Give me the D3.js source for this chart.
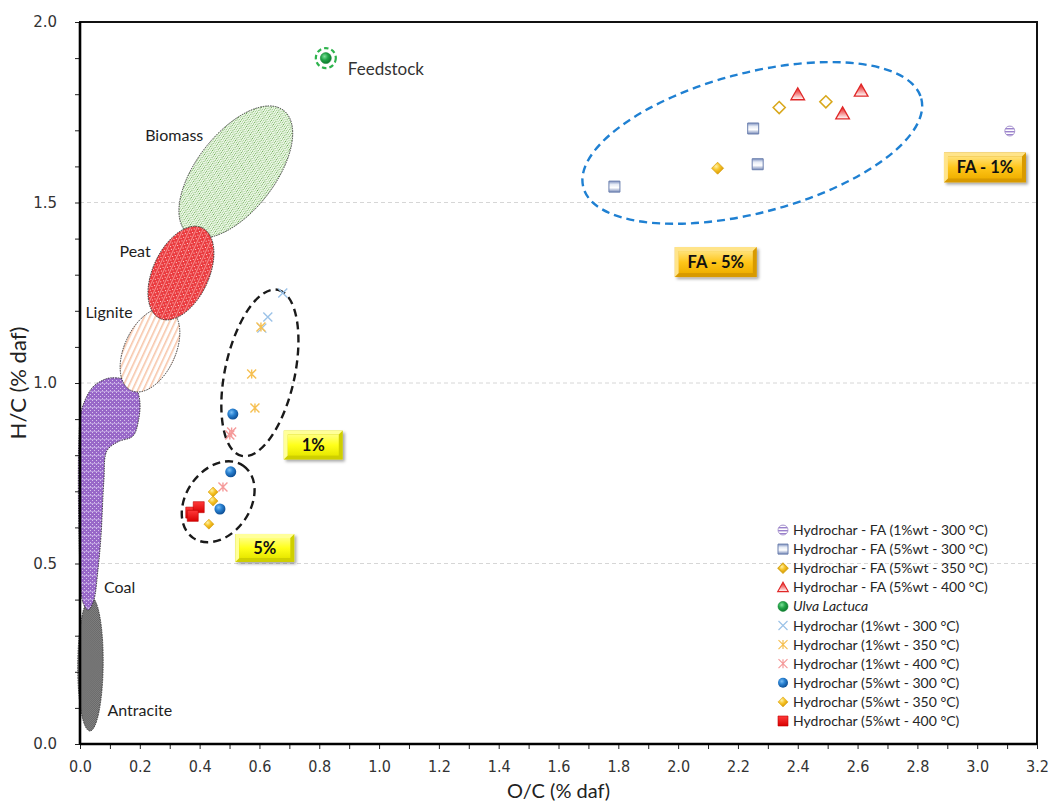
<!DOCTYPE html>
<html>
<head>
<meta charset="utf-8">
<script src="https://cdn.jsdelivr.net/npm/d3@7"></script>
<style>
  html, body { margin: 0; padding: 0; background: #fff; }
  svg { display: block; }
</style>
</head>
<body>
<svg id="chart" width="1052" height="803"></svg>
<script>
// ---- axis ticks ----
const xTickValues = [0, 0.2, 0.4, 0.6, 0.8, 1.0, 1.2, 1.4, 1.6, 1.8, 2.0, 2.2, 2.4, 2.6, 2.8, 3.0, 3.2];
const xTickLabels = ["0.0","0.2","0.4","0.6","0.8","1.0","1.2","1.4","1.6","1.8","2.0","2.2","2.4","2.6","2.8","3.0","3.2"];
const yTickValues = [0, 0.5, 1.0, 1.5, 2.0];
const yTickLabels = ["0.0","0.5","1.0","1.5","2.0"];

// ---- measured samples: [O/C, H/C] ----
const faOne300       = [[3.109, 1.698]];
const faFive300      = [[1.787, 1.544], [2.251, 1.705], [2.266, 1.606]];
const faFive350      = [[2.338, 1.763], [2.494, 1.779]];
const faFive350Solid = [[2.132, 1.595]];
const faFive400      = [[2.400, 1.800], [2.612, 1.810], [2.550, 1.747]];
const ulvaLactuca    = [[0.822, 1.900]];
const one300         = [[0.678, 1.249], [0.628, 1.183], [0.608, 1.152]];
const one350         = [[0.605, 1.155], [0.574, 1.025], [0.585, 0.931]];
const one400         = [[0.501, 0.856], [0.507, 0.864], [0.478, 0.712]];
const five300        = [[0.511, 0.914], [0.504, 0.754], [0.468, 0.651]];
const five350        = [[0.445, 0.698], [0.445, 0.673], [0.431, 0.609]];
const five400        = [[0.372, 0.641], [0.397, 0.656], [0.377, 0.632]];

const legendLabels = [
  "Hydrochar - FA (1%wt - 300 \u00B0C)",
  "Hydrochar - FA (5%wt - 300 \u00B0C)",
  "Hydrochar - FA (5%wt - 350 \u00B0C)",
  "Hydrochar - FA (5%wt - 400 \u00B0C)",
  "Ulva Lactuca",
  "Hydrochar (1%wt - 300 \u00B0C)",
  "Hydrochar (1%wt - 350 \u00B0C)",
  "Hydrochar (1%wt - 400 \u00B0C)",
  "Hydrochar (5%wt - 300 \u00B0C)",
  "Hydrochar (5%wt - 350 \u00B0C)",
  "Hydrochar (5%wt - 400 \u00B0C)"
];

// ---- Van Krevelen fuel regions (data units) ----
// ellipses given by the two ends of the long axis and a width ratio
const regionEllipses = [
  { name: "Biomass",   p1: [0.361, 1.414], p2: [0.681, 1.755], ratio: 0.50, fill: "url(#patBiomass)" },
  { name: "Antracite", p1: [0.037, 0.407], p2: [0.033, 0.036], ratio: 0.19, fill: "url(#patAntracite)" },
  { name: "Coal" },
  { name: "Lignite",   p1: [0.171, 0.979], p2: [0.297, 1.204], ratio: 0.57, fill: "url(#patLignite)" },
  { name: "Peat",      p1: [0.267, 1.179], p2: [0.408, 1.430], ratio: 0.56, fill: "url(#patPeat)" }
];
const coalOutline = [
  [0.100, 1.014], [0.150, 1.010], [0.185, 0.990], [0.200, 0.950], [0.196, 0.898],
  [0.177, 0.853], [0.127, 0.837], [0.090, 0.812], [0.080, 0.731], [0.070, 0.573],
  [0.060, 0.482], [0.045, 0.395], [0.027, 0.371], [0.010, 0.391], [0.000, 0.482],
  [0.000, 0.898], [0.013, 0.945], [0.043, 0.989], [0.077, 1.008]
];
const regionLabels = [
  { text: "Biomass",   at: [0.218, 1.670] },
  { text: "Peat",      at: [0.132, 1.349] },
  { text: "Lignite",   at: [0.018, 1.180] },
  { text: "Coal",      at: [0.080, 0.418] },
  { text: "Antracite", at: [0.092, 0.078] }
];

// grouping outlines
const groupEllipses = [
  { p1: [1.683, 1.542], p2: [2.813, 1.788], ratio: 0.40, color: "#1f80d2" },
  { p1: [0.541, 0.798], p2: [0.662, 1.258], ratio: 0.41, color: "#1a1a1a" },
  { p1: [0.378, 0.571], p2: [0.546, 0.771], ratio: 0.73, color: "#1a1a1a" }
];
const calloutTags = [
  { text: "1%",      at: [0.780, 0.828], w: 59, h: 29, tone: "yellow" },
  { text: "5%",      at: [0.618, 0.543], w: 59, h: 28, tone: "yellow" },
  { text: "FA - 5%", at: [2.126, 1.335], w: 82, h: 30, tone: "gold" },
  { text: "FA - 1%", at: [3.026, 1.597], w: 82, h: 30, tone: "gold" }
];

// ---- layout ----
const svg = d3.select("#chart");
const x = d3.scaleLinear().domain([0, 3.2]).range([80, 1037]);
const y = d3.scaleLinear().domain([0, 2.0]).range([744, 22]);
const bodyFont = "Lato, 'Open Sans', sans-serif";

// ---- defs: gradients and patterns ----
const defs = svg.append("defs");

function radial(id, stops, cx = "38%", cy = "35%") {
  const g = defs.append("radialGradient").attr("id", id).attr("cx", cx).attr("cy", cy).attr("r", "65%");
  stops.forEach(([o, c]) => g.append("stop").attr("offset", o).attr("stop-color", c));
}
function linear(id, stops) {
  const g = defs.append("linearGradient").attr("id", id).attr("x1", 0).attr("y1", 0).attr("x2", 0).attr("y2", 1);
  stops.forEach(([o, c]) => g.append("stop").attr("offset", o).attr("stop-color", c));
}
radial("gBlue", [["0%", "#7cc0f5"], ["45%", "#2a82d2"], ["100%", "#0e4f95"]]);
radial("gGreen", [["0%", "#7fe09a"], ["50%", "#22a548"], ["100%", "#0f7a2f"]]);
radial("gGold", [["0%", "#fff1a6"], ["45%", "#f7c52a"], ["100%", "#d99a00"]]);
linear("gFaSquare", [["0%", "#7b8fbf"], ["30%", "#e6ebf5"], ["60%", "#ffffff"], ["100%", "#7488b8"]]);
linear("gRedTri", [["0%", "#e41c1c"], ["45%", "#f27a7a"], ["100%", "#ffffff"]]);
linear("gRedSq", [["0%", "#ff3a3a"], ["100%", "#d80000"]]);
linear("gYellow", [["0%", "#ffff80"], ["50%", "#ffff1a"], ["100%", "#e8e800"]]);
linear("gGoldTag", [["0%", "#ffe27a"], ["50%", "#ffc61a"], ["100%", "#f0b000"]]);

function pattern(id, w, h, bg, cells) {
  const p = defs.append("pattern").attr("id", id).attr("patternUnits", "userSpaceOnUse")
    .attr("width", w).attr("height", h);
  p.append("rect").attr("width", w).attr("height", h).attr("fill", bg);
  cells.forEach(([cx, cy, cw, ch, c]) => p.append("rect").attr("x", cx).attr("y", cy)
    .attr("width", cw).attr("height", ch).attr("fill", c));
}
pattern("patBiomass", 4, 4, "#eef7e9", [[0, 0, 1, 1, "#5fa843"], [2, 0, 1, 1, "#5fa843"], [1, 2, 1, 1, "#93c97d"], [3, 2, 1, 1, "#93c97d"]]);
pattern("patPeat", 4, 6, "#ea3b3f", [[0, 0, 1, 1, "#ffd5d5"], [2, 2, 1, 1, "#ffd5d5"], [0, 4, 4, 1, "#f58a8a"]]);
pattern("patLignite", 4, 5, "#ffffff", [[0, 0, 4, 1.6, "#f7c6aa"]]);
pattern("patCoal", 4, 8, "#9868c8", [[0, 0, 1, 1, "#d8c6ec"], [2, 2, 1, 1, "#d8c6ec"], [0, 4, 1, 1, "#d8c6ec"], [2, 6, 1, 1, "#d8c6ec"], [0, 7, 4, 1, "#b796dc"]]);
pattern("patAntracite", 2, 2, "#b0b0b0", [[0, 0, 1, 1, "#383838"], [1, 1, 1, 1, "#383838"]]);
pattern("patFaOne", 8, 3, "#ffffff", [[0, 0, 8, 1.4, "#9a80cc"]]);

const shadow = defs.append("filter").attr("id", "tagShadow").attr("x", "-20%").attr("y", "-20%").attr("width", "150%").attr("height", "160%");
shadow.append("feDropShadow").attr("dx", 2).attr("dy", 2).attr("stdDeviation", 1.5)
  .attr("flood-color", "#000").attr("flood-opacity", 0.35);

// ---- gridlines ----
svg.append("g").selectAll("line").data(yTickValues.filter(v => v > 0 && v < 2)).join("line")
  .attr("x1", x(0)).attr("x2", x(3.2)).attr("y1", d => y(d)).attr("y2", d => y(d))
  .attr("stroke", "#d6d6d6").attr("stroke-width", 1).attr("stroke-dasharray", "4,3");

// ---- fuel regions ----
function ellipseGeom(e) {
  const ax = x(e.p1[0]), ay = y(e.p1[1]), bx = x(e.p2[0]), by = y(e.p2[1]);
  const cx = (ax + bx) / 2, cy = (ay + by) / 2;
  const a = Math.hypot(bx - ax, by - ay) / 2;
  const ang = Math.atan2(by - ay, bx - ax) * 180 / Math.PI;
  return { cx, cy, rx: a, ry: a * e.ratio, ang };
}
const regionLayer = svg.append("g");
regionEllipses.forEach(e => {
  if (e.name === "Coal") {
    const line = d3.line().x(d => x(d[0])).y(d => y(d[1])).curve(d3.curveCatmullRomClosed.alpha(0.5));
    regionLayer.append("path").attr("d", line(coalOutline))
      .attr("fill", "url(#patCoal)").attr("stroke", "#222").attr("stroke-width", 0.8)
      .attr("stroke-dasharray", "1.5,1");
    return;
  }
  const g = ellipseGeom(e);
  regionLayer.append("ellipse").attr("cx", g.cx).attr("cy", g.cy).attr("rx", g.rx).attr("ry", g.ry)
    .attr("transform", `rotate(${g.ang},${g.cx},${g.cy})`)
    .attr("fill", e.fill).attr("stroke", "#222").attr("stroke-width", 0.8).attr("stroke-dasharray", "1.5,1");
});
svg.append("g").selectAll("text").data(regionLabels).join("text")
  .attr("x", d => x(d.at[0])).attr("y", d => y(d.at[1]))
  .attr("font-family", bodyFont).attr("font-size", 16).attr("fill", "#1e1e1e")
  .text(d => d.text);

// ---- group outlines ----
groupEllipses.forEach(e => {
  const g = ellipseGeom(e);
  svg.append("ellipse").attr("cx", g.cx).attr("cy", g.cy).attr("rx", g.rx).attr("ry", g.ry)
    .attr("transform", `rotate(${g.ang},${g.cx},${g.cy})`)
    .attr("fill", "none").attr("stroke", e.color).attr("stroke-width", 2.4)
    .attr("stroke-dasharray", "8,5");
});

// ---- marker shapes ----
function markerPath(type, s) {
  switch (type) {
    case "circle": return `M${-s},0a${s},${s} 0 1,0 ${2 * s},0a${s},${s} 0 1,0 ${-2 * s},0Z`;
    case "square": return `M${-s},${-s}h${2 * s}v${2 * s}h${-2 * s}Z`;
    case "diamond": return `M0,${-s}L${s},0L0,${s}L${-s},0Z`;
    case "triangle": return `M0,${-s}L${s * 1.05},${s * 0.85}L${-s * 1.05},${s * 0.85}Z`;
    case "cross": return `M${-s},${-s}L${s},${s}M${-s},${s}L${s},${-s}`;
    case "star": return `M${-s},${-s}L${s},${s}M${-s},${s}L${s},${-s}M0,${-s}V${s}`;
  }
}

const series = [
  { label: legendLabels[0],  data: faOne300,       shape: "circle",   size: 5,   fill: "url(#patFaOne)", stroke: "#a08cc8", sw: 0.8 },
  { label: legendLabels[1],  data: faFive300,      shape: "square",   size: 5.5, fill: "url(#gFaSquare)", stroke: "#6b7fae", sw: 1 },
  { label: legendLabels[2],  data: faFive350,      shape: "diamond",  size: 6,   fill: "#ffffff", stroke: "#d9a81c", sw: 1.6, legendFill: "url(#gGold)" },
  { label: null,             data: faFive350Solid, shape: "diamond",  size: 6,   fill: "url(#gGold)", stroke: "#d9a21a", sw: 0.8 },
  { label: legendLabels[3],  data: faFive400,      shape: "triangle", size: 6.5, fill: "url(#gRedTri)", stroke: "#e02828", sw: 1.3 },
  { label: legendLabels[4],  data: ulvaLactuca,    shape: "circle",   size: 5.5, fill: "url(#gGreen)", stroke: "#168a36", sw: 0.6, italic: true },
  { label: legendLabels[5],  data: one300,         shape: "cross",    size: 4.5, fill: "none", stroke: "#9cc3e8", sw: 1.4 },
  { label: legendLabels[6],  data: one350,         shape: "star",     size: 4.5, fill: "none", stroke: "#f6c052", sw: 1.4 },
  { label: legendLabels[7],  data: one400,         shape: "star",     size: 4.5, fill: "none", stroke: "#f59a9a", sw: 1.4 },
  { label: legendLabels[8],  data: five300,        shape: "circle",   size: 5.5, fill: "url(#gBlue)", stroke: "none", sw: 0 },
  { label: legendLabels[9],  data: five350,        shape: "diamond",  size: 5,   fill: "url(#gGold)", stroke: "#d9a21a", sw: 0.6 },
  { label: legendLabels[10], data: five400,        shape: "square",   size: 5.5, fill: "url(#gRedSq)", stroke: "#c00000", sw: 0.6 }
];

// ---- feedstock ring ----
svg.append("circle").attr("cx", x(ulvaLactuca[0][0])).attr("cy", y(ulvaLactuca[0][1])).attr("r", 10)
  .attr("fill", "none").attr("stroke", "#2db34c").attr("stroke-width", 2.2).attr("stroke-dasharray", "4.5,3");
svg.append("text").attr("x", x(ulvaLactuca[0][0]) + 22).attr("y", y(ulvaLactuca[0][1]) + 17)
  .attr("font-family", bodyFont).attr("font-size", 17).attr("fill", "#333")
  .text("Feedstock");

// ---- points ----
const pointLayer = svg.append("g");
series.forEach(s => {
  pointLayer.append("g").selectAll("path").data(s.data).join("path")
    .attr("transform", d => `translate(${x(d[0])},${y(d[1])})`)
    .attr("d", markerPath(s.shape, s.size))
    .attr("fill", s.fill).attr("stroke", s.stroke).attr("stroke-width", s.sw);
});

// ---- callout tags ----
calloutTags.forEach(t => {
  const cx = x(t.at[0]), cy = y(t.at[1]);
  const g = svg.append("g").attr("transform", `translate(${cx - t.w / 2},${cy - t.h / 2})`);
  const edge = t.tone === "gold" ? "#d89a00" : "#cfcf00";
  const face = t.tone === "gold" ? "url(#gGoldTag)" : "url(#gYellow)";
  g.append("rect").attr("width", t.w).attr("height", t.h).attr("fill", edge).attr("filter", "url(#tagShadow)");
  g.append("path").attr("d", `M0,0H${t.w}L${t.w - 4},4H4V${t.h - 4}L0,${t.h}Z`)
    .attr("fill", t.tone === "gold" ? "#ffe48a" : "#ffff9a");
  g.append("rect").attr("x", 4).attr("y", 4).attr("width", t.w - 8).attr("height", t.h - 8).attr("fill", face);
  g.append("text").attr("x", t.w / 2).attr("y", t.h / 2 + 6).attr("text-anchor", "middle")
    .attr("font-family", bodyFont).attr("font-weight", "bold")
    .attr("font-size", 16.5).attr("fill", "#111").text(t.text);
});

// ---- axes ----
const minorX = d3.range(0, 33).map(i => i / 10);
const minorY = d3.range(0, 21).map(i => i / 10);
const xAxis = svg.append("g").attr("transform", `translate(0,${y(0)})`)
  .call(d3.axisBottom(x).tickValues(minorX).tickSize(5).tickPadding(12)
    .tickFormat(d => { const i = xTickValues.findIndex(v => Math.abs(v - d) < 1e-6); return i >= 0 ? xTickLabels[i] : ""; }));
xAxis.attr("font-size", null).attr("font-family", null);
xAxis.selectAll("text")
  .style("font-family", "'DejaVu Sans Condensed', 'DejaVu Sans', sans-serif")
  .style("font-size", "16px").attr("fill", "#333");
const yAxis = svg.append("g").attr("transform", `translate(${x(0)},0)`)
  .call(d3.axisLeft(y).tickValues(minorY).tickSize(5).tickPadding(18)
    .tickFormat(d => { const i = yTickValues.findIndex(v => Math.abs(v - d) < 1e-6); return i >= 0 ? yTickLabels[i] : ""; }));
yAxis.selectAll("text").attr("font-family", "'DejaVu Sans', Verdana, sans-serif").attr("font-size", 15).attr("fill", "#333");
[xAxis, yAxis].forEach(a => {
  a.selectAll(".tick line").attr("stroke", "#222").attr("stroke-width", 1);
  a.select(".domain").remove();
});

// plot frame
svg.append("rect").attr("x", x(0)).attr("y", y(2)).attr("width", x(3.2) - x(0)).attr("height", y(0) - y(2))
  .attr("fill", "none").attr("stroke", "#111").attr("stroke-width", 2);
svg.append("line").attr("x1", x(0)).attr("x2", x(0)).attr("y1", y(2)).attr("y2", y(0))
  .attr("stroke", "#000").attr("stroke-width", 2.6);
svg.append("line").attr("x1", x(0)).attr("x2", x(3.2)).attr("y1", y(0)).attr("y2", y(0))
  .attr("stroke", "#000").attr("stroke-width", 2.4);

// axis titles
svg.append("text").attr("x", (x(0) + x(3.2)) / 2).attr("y", 798).attr("text-anchor", "middle")
  .attr("font-family", bodyFont).attr("font-size", 20).attr("fill", "#222")
  .text("O/C (% daf)");
svg.append("text").attr("transform", `translate(26,${(y(0) + y(2)) / 2}) rotate(-90)`).attr("text-anchor", "middle")
  .attr("font-family", bodyFont).attr("font-size", 22).attr("fill", "#222")
  .text("H/C (% daf)");

// ---- legend ----
const legendItems = series.filter(s => s.label);
const legend = svg.append("g").attr("transform", "translate(783,530)");
legendItems.forEach((s, i) => {
  const row = legend.append("g").attr("transform", `translate(0,${i * 19.1})`);
  const sz = Math.min(s.size, 5);
  row.append("path").attr("d", markerPath(s.shape, sz))
    .attr("fill", s.legendFill || s.fill).attr("stroke", s.stroke).attr("stroke-width", Math.min(s.sw, 1.2));
  row.append("text").attr("x", 10).attr("y", 5)
    .attr("font-family", bodyFont).attr("font-size", 14)
    .attr("font-style", s.italic ? "italic" : "normal").attr("fill", "#262626")
    .text(s.label);
});
</script>
</body>
</html>
